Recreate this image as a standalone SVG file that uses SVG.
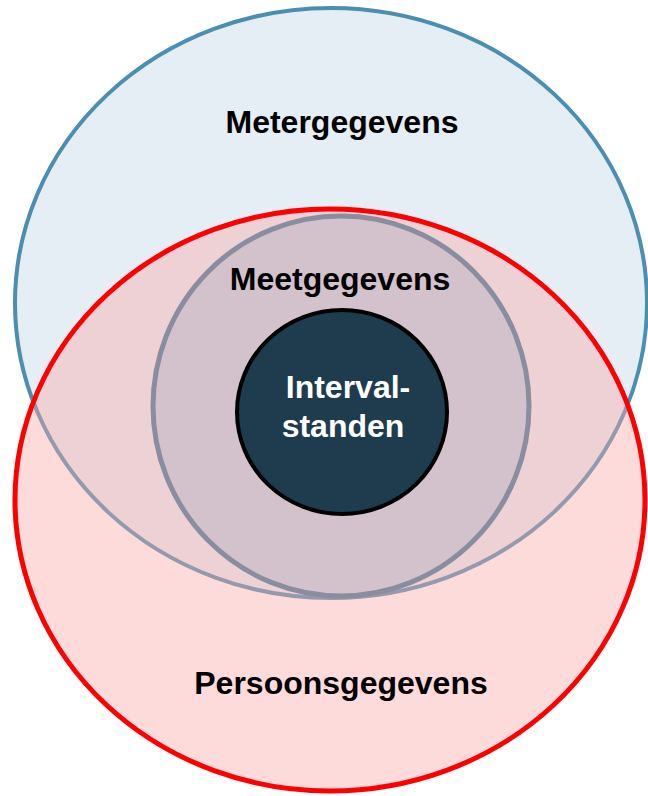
<svg xmlns="http://www.w3.org/2000/svg" width="648" height="796" viewBox="0 0 648 796">
  <style>
    .lbl { font-family: "Liberation Sans", Arial, sans-serif; font-weight: bold; font-size: 32px; text-anchor: middle; fill: #000; }
    .lbl-w { fill: #ffffff; }
  </style>
  <rect width="648" height="796" fill="#ffffff"/>
  <g id="metergegevens">
    <ellipse cx="331" cy="303" rx="316" ry="295" fill="#E4EEF4" stroke="#4A8EB0" stroke-width="4"/>
    <text class="lbl" x="342" y="133">Metergegevens</text>
  </g>
  <g id="persoonsgegevens">
    <ellipse cx="330" cy="500" rx="315" ry="291" fill="#FAA9A9" fill-opacity="0.42" stroke="none"/>
    <ellipse cx="330" cy="500" rx="315" ry="291" fill="none" stroke="#FF0000" stroke-width="5"/>
    <text class="lbl" x="341" y="694">Persoonsgegevens</text>
  </g>
  <g id="meetgegevens">
    <ellipse cx="341" cy="406" rx="188" ry="190" fill="#D3C2CB" stroke="#898D9F" stroke-width="5"/>
    <text class="lbl" x="340" y="290">Meetgegevens</text>
  </g>
  <g id="intervalstanden">
    <ellipse cx="342" cy="412" rx="105" ry="102" fill="#1F3B4E" stroke="#000000" stroke-width="4"/>
    <text class="lbl lbl-w" x="348" y="398">Interval-</text>
    <text class="lbl lbl-w" x="343" y="437">standen</text>
  </g>
  <g id="connectors"></g>
</svg>
